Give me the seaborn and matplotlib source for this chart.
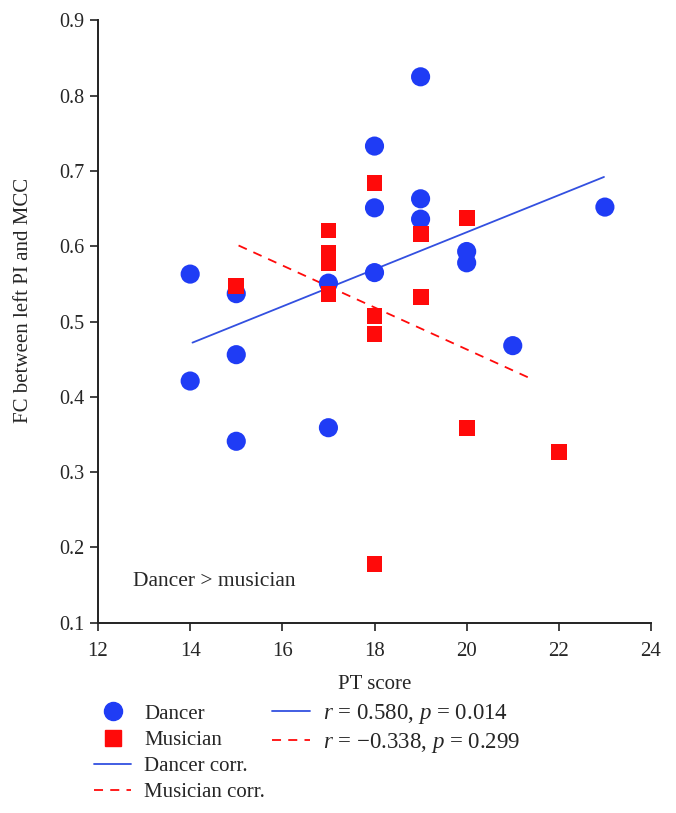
import numpy as np
import pandas as pd
import matplotlib.pyplot as plt
import seaborn as sns
from matplotlib.lines import Line2D

# dancer group (blue circles)
dancer_pt = [14, 14, 15, 15, 15, 17, 17, 18, 18, 18, 19, 19, 19, 20, 20, 21, 23]
dancer_fc = [0.563, 0.421, 0.537, 0.456, 0.341, 0.551, 0.359, 0.733, 0.651, 0.565,
             0.825, 0.663, 0.636, 0.593, 0.578, 0.468, 0.652]

# musician group (red squares)
musician_pt = [15, 17, 17, 17, 17, 18, 18, 18, 18, 19, 19, 20, 20, 22]
musician_fc = [0.547, 0.621, 0.591, 0.577, 0.537, 0.684, 0.507, 0.484, 0.178,
               0.616, 0.533, 0.638, 0.359, 0.327]

# regression lines (end points)
dancer_fit_x = [14.05, 22.98]
dancer_fit_y = [0.472, 0.692]
musician_fit_x = [15.05, 21.4]
musician_fit_y = [0.601, 0.424]

x_ticks = [12, 14, 16, 18, 20, 22, 24]
y_ticks = [0.1, 0.2, 0.3, 0.4, 0.5, 0.6, 0.7, 0.8, 0.9]

blue = '#1f3cf5'
red = '#ff0a0a'
line_blue = '#3350e0'

sns.set_style('ticks')
plt.rcParams['font.family'] = ['Liberation Serif', 'DejaVu Serif']
plt.rcParams['mathtext.fontset'] = 'custom'
plt.rcParams['mathtext.rm'] = 'Liberation Serif'
plt.rcParams['mathtext.it'] = 'Liberation Serif:italic'

dancers = pd.DataFrame({'pt': dancer_pt, 'fc': dancer_fc})
musicians = pd.DataFrame({'pt': musician_pt, 'fc': musician_fc})

fig = plt.figure(figsize=(6.76, 8.13), dpi=100)
ax = fig.add_axes([0.145, 0.234, 0.818, 0.741])

sns.lineplot(x=dancer_fit_x, y=dancer_fit_y, color=line_blue, lw=1.3, ax=ax)
sns.lineplot(x=musician_fit_x, y=musician_fit_y, color=red, lw=1.3, ax=ax)
ax.lines[-1].set_dashes([5, 4])
sns.scatterplot(data=dancers, x='pt', y='fc', color=blue, marker='o', s=190,
                edgecolor='none', ax=ax, zorder=3)
sns.scatterplot(data=musicians, x='pt', y='fc', color=red, marker='s', s=130,
                edgecolor='none', ax=ax, zorder=3)

ax.set_xlim(12, 24)
ax.set_ylim(0.1, 0.9)
ax.set_xticks(x_ticks)
ax.set_yticks(y_ticks)
ax.set_xticklabels([str(t) for t in x_ticks], fontsize=15)
ax.set_yticklabels([f'{t:.1f}' for t in y_ticks], fontsize=14.5)
ax.tick_params(axis='both', direction='out', length=6, width=1.2, color='#222222')
ax.tick_params(axis='x', pad=8)
sns.despine(ax=ax)
for sp in ['left', 'bottom']:
    ax.spines[sp].set_linewidth(1.4)
    ax.spines[sp].set_color('#222222')

ax.set_xlabel('PT score', fontsize=15, labelpad=10)
ax.set_ylabel('FC between left PI and MCC', fontsize=15)
ax.yaxis.set_label_coords(-0.1175, 0.535)

ax.text(12.75, 0.155, 'Dancer > musician', fontsize=15.5, va='center', ha='left')

h1 = [Line2D([], [], ls='none', marker='o', color=blue, markersize=13),
      Line2D([], [], ls='none', marker='s', color=red, markersize=11),
      Line2D([], [], color=line_blue, lw=1.3),
      Line2D([], [], color=red, lw=1.3, dashes=[5, 4])]
l1 = ['Dancer', 'Musician', 'Dancer corr.', 'Musician corr.']
leg1 = fig.legend(h1, l1, loc='upper left', bbox_to_anchor=(0.139, 0.134),
                  frameon=False, fontsize=15, handlelength=1.8, handletextpad=0.6,
                  labelspacing=0.32, borderpad=0, borderaxespad=0)

h2 = [Line2D([], [], color=line_blue, lw=1.3),
      Line2D([], [], color=red, lw=1.3, dashes=[5, 4])]
l2 = ['$r$ = 0.580, $p$ = 0.014', '$r$ = \u22120.338, $p$ = 0.299']
leg2 = fig.legend(h2, l2, loc='upper left', bbox_to_anchor=(0.402, 0.136),
                  frameon=False, fontsize=16.5, handlelength=1.65, handletextpad=0.6,
                  labelspacing=0.2, borderpad=0, borderaxespad=0)

fig.savefig('out.png', dpi=100)
